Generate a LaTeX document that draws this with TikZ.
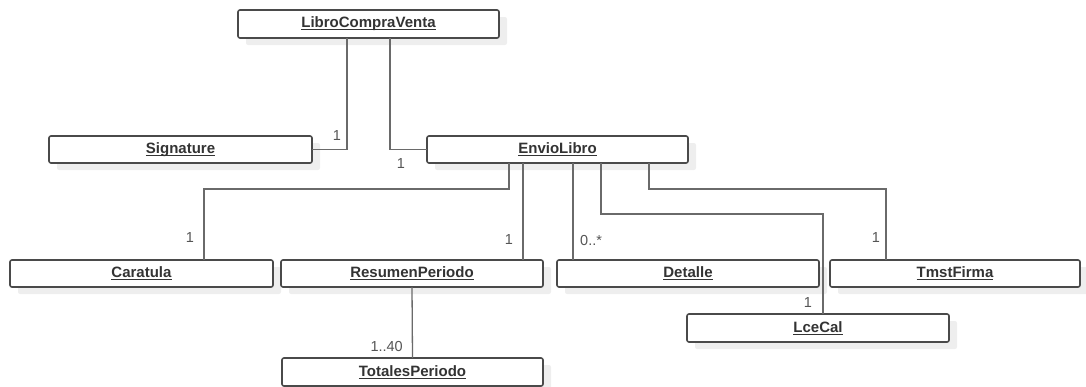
\documentclass[tikz,border=0pt]{standalone}
\usepackage{fontspec}
\setmainfont{Liberation Sans}
\usetikzlibrary{shadows}
\definecolor{boxline}{HTML}{4A4A4A}
\definecolor{wire}{HTML}{6A6A6A}
\definecolor{ink}{HTML}{333333}
\definecolor{multink}{HTML}{555555}
\definecolor{shade}{HTML}{EEEEEE}
% underlined class name
\newcommand\clsname[1]{\setbox0\hbox{#1}\rlap{\color{ink}\rule[-2.6pt]{\wd0}{1pt}}\box0}
% class box: name, left, top, right, bottom, label
\newcommand\umlclass[6]{%
  \node[classbox, minimum width={#4-#2}, minimum height={#5-#3}]
    (#1) at ({(#2+#4)/2},{(#3+#5)/2}) {\clsname{#6}};}
\tikzset{
  classbox/.style={draw=boxline, line width=1.6pt, rounded corners=2pt, fill=white,
    inner sep=0pt, outer sep=0pt, text=ink, font=\fontsize{15}{18}\selectfont\bfseries,
    copy shadow={shadow xshift=8pt, shadow yshift=-7pt, fill=shade, draw=none}},
  assoc/.style={draw=wire, line width=1.3pt},
  mult/.style={text=multink, font=\fontsize{14.5}{17}\selectfont, inner sep=0pt},
}
\begin{document}
\begin{tikzpicture}[x=1pt, y=-1pt]
\useasboundingbox (0,0) rectangle (1086,386);
% classes
\umlclass{lcv}{238}{10}{499}{38}{LibroCompraVenta}
\umlclass{sig}{49}{136}{312}{163}{Signature}
\umlclass{env}{427}{136}{688}{163}{EnvioLibro}
\umlclass{car}{10}{260}{273}{287}{Caratula}
\umlclass{res}{281}{260}{543}{287}{ResumenPeriodo}
\umlclass{det}{557}{260}{819}{287}{Detalle}
\umlclass{tmst}{830}{260}{1080}{287}{TmstFirma}
\umlclass{lce}{687}{314}{949}{342}{LceCal}
\umlclass{tot}{282}{358}{543}{386}{TotalesPeriodo}
% associations
\draw[assoc] ([xshift=109pt]lcv.south west) |- (sig.east);
\draw[assoc] ([xshift=152pt]lcv.south west) |- (env.west);
\draw[assoc] ([xshift=82pt]env.south west) -- ++(0,26) -| ([xshift=194pt]car.north west);
\draw[assoc] ([xshift=96pt]env.south west) coordinate (eres) -- (eres |- res.north);
\draw[assoc] ([xshift=146pt]env.south west) coordinate (edet) -- (edet |- det.north);
\draw[assoc] ([xshift=174pt]env.south west) -- ++(0,51) -| ([xshift=136pt]lce.north west);
\draw[assoc] ([xshift=222pt]env.south west) -- ++(0,26) -| ([xshift=56pt]tmst.north west);
\draw[assoc] (res.south) -- (tot.north);
% multiplicities
\node[mult] (m1) at (337,136) {1};
\node[mult] (m2) at (401,164) {1};
\node[mult] (m3) at (190,238) {1};
\node[mult] (m4) at (509,240) {1};
\node[mult, anchor=west] (m5) at (580,241) {0..*};
\node[mult] (m6) at (876,238) {1};
\node[mult] (m7) at (808,303) {1};
\node[mult, anchor=east] (m8) at (403,347) {1..40};
\end{tikzpicture}
\end{document}
